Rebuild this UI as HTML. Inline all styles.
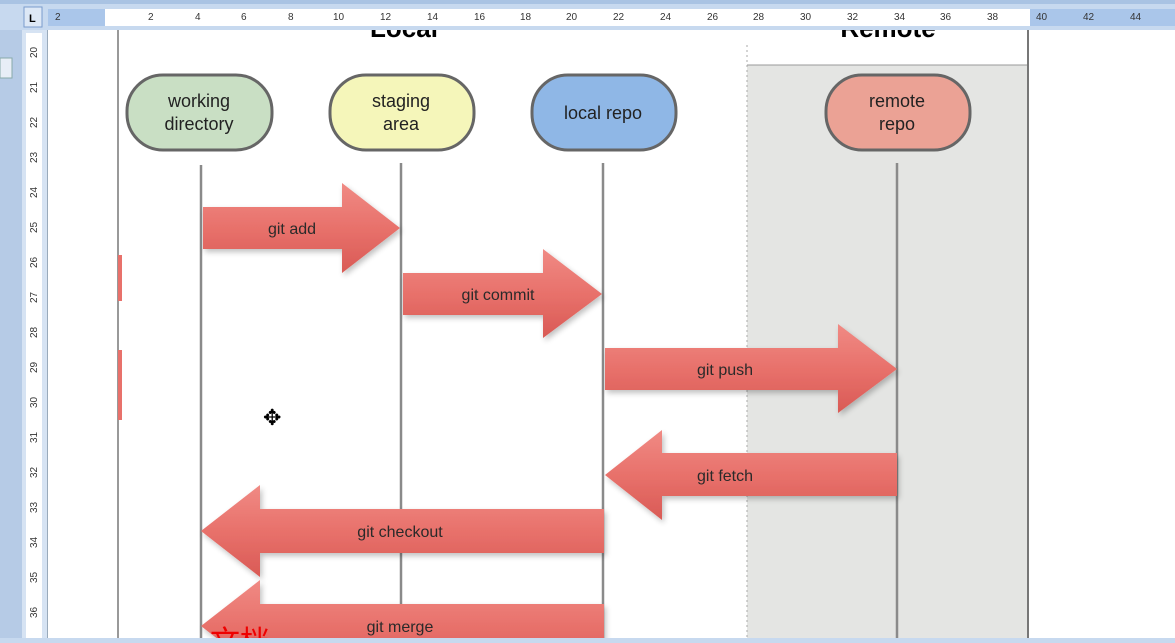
<!DOCTYPE html>
<html><head><meta charset="utf-8"><style>
html,body{margin:0;padding:0;width:1175px;height:643px;overflow:hidden;background:#fff}
svg{display:block}
text{font-family:"Liberation Sans","Noto Sans CJK SC",sans-serif}
</style></head><body>
<svg width="1175" height="643" viewBox="0 0 1175 643" xmlns="http://www.w3.org/2000/svg">
<defs>
<linearGradient id="ar" x1="0" y1="0" x2="0" y2="1">
<stop offset="0" stop-color="#f08a84"/><stop offset="0.5" stop-color="#e8716b"/><stop offset="1" stop-color="#d95a55"/>
</linearGradient>
<filter id="sh" x="-10%" y="-20%" width="120%" height="140%"><feGaussianBlur in="SourceAlpha" stdDeviation="3"/><feOffset dx="2" dy="3"/><feComponentTransfer><feFuncA type="linear" slope="0.25"/></feComponentTransfer><feMerge><feMergeNode/><feMergeNode in="SourceGraphic"/></feMerge></filter>
</defs>
<!-- page -->
<rect x="117" y="30" width="2" height="608" fill="#999"/>
<rect x="747" y="65" width="281" height="573" fill="#e4e5e3"/>
<line x1="747" y1="45" x2="747" y2="638" stroke="#aaa" stroke-dasharray="2,3"/>
<line x1="747" y1="65" x2="1028" y2="65" stroke="#999"/>
<rect x="1027" y="30" width="2" height="608" fill="#777"/>
<text x="404" y="37" font-size="26" font-weight="bold" text-anchor="middle">Local</text>
<text x="888" y="37" font-size="26" font-weight="bold" text-anchor="middle">Remote</text>
<!-- lifelines -->
<g stroke="#8a8a8a" stroke-width="2.5">
<line x1="201" y1="165" x2="201" y2="638"/><line x1="401" y1="163" x2="401" y2="638"/>
<line x1="603" y1="163" x2="603" y2="638"/><line x1="897" y1="163" x2="897" y2="638"/>
</g>
<!-- nodes -->
<g stroke="#666" stroke-width="3">
<rect x="127" y="75" width="145" height="75" rx="36" fill="#c9dfc4"/>
<rect x="330" y="75" width="144" height="75" rx="36" fill="#f5f6ba"/>
<rect x="532" y="75" width="144" height="75" rx="36" fill="#8fb7e6"/>
<rect x="826" y="75" width="144" height="75" rx="36" fill="#eba295"/>
</g>
<g font-size="18" text-anchor="middle" fill="#222">
<text x="199" y="107">working</text><text x="199" y="130">directory</text>
<text x="401" y="107">staging</text><text x="401" y="130">area</text>
<text x="603" y="119">local repo</text>
<text x="897" y="107">remote</text><text x="897" y="130">repo</text>
</g>
<!-- arrows -->
<g fill="url(#ar)" filter="url(#sh)">
<polygon points="203,207 342,207 342,183 400,228 342,273 342,249 203,249"/>
<polygon points="403,273 543,273 543,249 602,294 543,338 543,315 403,315"/>
<polygon points="605,348 838,348 838,324 897,369 838,413 838,390 605,390"/>
<polygon points="605,475 662,430 662,453 897,453 897,496 662,496 662,520"/>
<polygon points="201,531 260,485 260,509 604,509 604,553 260,553 260,577"/>
<polygon points="201,626 260,580 260,604 604,604 604,650 260,650 260,672"/>
</g>
<rect x="118" y="255" width="4" height="46" fill="#e8716b"/>
<rect x="118" y="350" width="4" height="70" fill="#e8716b"/>
<g font-size="16" text-anchor="middle" fill="#2a2a2a">
<text x="292" y="234">git add</text>
<text x="498" y="300">git commit</text>
<text x="725" y="375">git push</text>
<text x="725" y="481">git fetch</text>
<text x="400" y="537">git checkout</text>
<text x="400" y="632">git merge</text>
</g>
<text x="210" y="652" font-size="30" fill="#e00" font-family="Liberation Serif,'Noto Serif CJK SC',serif">文档</text>
<text x="263" y="425" font-size="22" fill="#000">✥</text>
<!-- top chrome -->
<rect x="0" y="0" width="1175" height="30" fill="#c7d9ef"/>
<rect x="0" y="0" width="1175" height="4" fill="#a9c3e3"/>
<rect x="48" y="9" width="1127" height="17" fill="#aac6ea"/>
<rect x="105" y="9" width="925" height="17" fill="#fff"/>
<rect x="24" y="7" width="18" height="20" fill="#dde8f6" stroke="#7a9ccc"/>
<text x="29" y="22" font-size="11" font-weight="bold">L</text>
<g font-size="10" fill="#333">
<text x="55" y="20">2</text><text x="148" y="20">2</text><text x="195" y="20">4</text><text x="241" y="20">6</text><text x="288" y="20">8</text>
<text x="333" y="20">10</text><text x="380" y="20">12</text><text x="427" y="20">14</text><text x="474" y="20">16</text><text x="520" y="20">18</text>
<text x="566" y="20">20</text><text x="613" y="20">22</text><text x="660" y="20">24</text><text x="707" y="20">26</text><text x="753" y="20">28</text>
<text x="800" y="20">30</text><text x="847" y="20">32</text><text x="894" y="20">34</text><text x="940" y="20">36</text><text x="987" y="20">38</text>
<text x="1036" y="20">40</text><text x="1083" y="20">42</text><text x="1130" y="20">44</text>
</g>
<!-- left chrome -->
<rect x="0" y="30" width="22" height="613" fill="#b6cbe6"/>
<rect x="22" y="30" width="25" height="613" fill="#d6e3f3"/>
<rect x="26" y="33" width="16" height="605" fill="#fff"/>
<rect x="0" y="58" width="12" height="20" fill="#e8eef7" stroke="#8aa"/>
<g font-size="10" fill="#333">
<text transform="translate(37,58) rotate(-90)">20</text><text transform="translate(37,93) rotate(-90)">21</text><text transform="translate(37,128) rotate(-90)">22</text>
<text transform="translate(37,163) rotate(-90)">23</text><text transform="translate(37,198) rotate(-90)">24</text><text transform="translate(37,233) rotate(-90)">25</text>
<text transform="translate(37,268) rotate(-90)">26</text><text transform="translate(37,303) rotate(-90)">27</text><text transform="translate(37,338) rotate(-90)">28</text>
<text transform="translate(37,373) rotate(-90)">29</text><text transform="translate(37,408) rotate(-90)">30</text><text transform="translate(37,443) rotate(-90)">31</text>
<text transform="translate(37,478) rotate(-90)">32</text><text transform="translate(37,513) rotate(-90)">33</text><text transform="translate(37,548) rotate(-90)">34</text>
<text transform="translate(37,583) rotate(-90)">35</text><text transform="translate(37,618) rotate(-90)">36</text>
</g>
<rect x="47" y="30" width="1" height="613" fill="#9ab"/>
<rect x="0" y="638" width="1175" height="5" fill="#c7d9ef"/>
</svg>
</body></html>
